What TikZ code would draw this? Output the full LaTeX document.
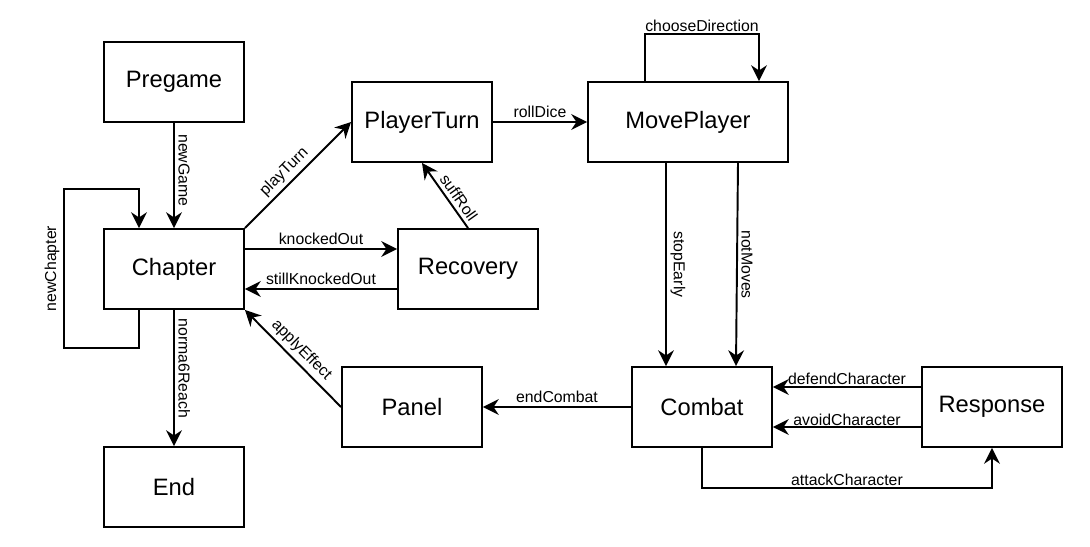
\documentclass[tikz,border=0pt]{standalone}
\usepackage{fontspec}
\setmainfont{Liberation Sans}
\usepackage{tikz}
\usetikzlibrary{calc,positioning,arrows.meta}

\begin{document}
\begin{tikzpicture}[x=0.02cm, y=-0.02cm,
    state/.style={draw, line width=1.1pt, minimum width=2.8cm, minimum height=1.6cm,
        inner sep=0pt, font=\fontsize{13.5}{16}\selectfont},
    trans/.style={line width=1.1pt, -{Stealth[length=9pt, width=9pt, inset=3pt]}},
    lbl/.style={font=\fontsize{9}{11}\selectfont, inner sep=2pt},
    vlbl/.style={lbl, rotate=-90, anchor=south}]
    \useasboundingbox (0,0) rectangle (1090,547);

    % states
    \node[state] (pregame) at (174,82) {Pregame};
    \node[state] (chapter) at (174,269) {Chapter};
    \node[state] (end) at (174,487) {End};
    \node[state] (playerturn) at (422,122) {PlayerTurn};
    \node[state, minimum width=4cm] (moveplayer) at (688,122) {MovePlayer};
    \node[state] (recovery) at (468,269) {Recovery};
    \node[state] (panel) at (412,407) {Panel};
    \node[state] (combat) at (702,407) {Combat};
    \node[state] (response) at (992,407) {Response};

    \coordinate (loopA) at (64,348);
    \coordinate (loopB) at (64,189);

    % transitions
    \draw[trans] (pregame) -- node[vlbl, pos=0.45] {newGame} (chapter);
    \draw[trans] ($(chapter.south)+(-35,0)$) |- (loopA)
        -- node[lbl, rotate=90, anchor=south] {newChapter} (loopB)
        -| ($(chapter.north)+(-35,0)$);
    \draw[trans] (chapter) -- node[vlbl, pos=0.43] {norma6Reach} (end);
    \draw[trans] (chapter.north east) -- node[lbl, sloped, above, pos=0.45] {playTurn} (playerturn.west);
    \draw[trans] ([yshift=0.4cm]chapter.east) -- node[lbl, above] {knockedOut} ([yshift=0.4cm]recovery.west);
    \draw[trans] ([yshift=-0.4cm]recovery.west) -- node[lbl, above] {stillKnockedOut} ([yshift=-0.4cm]chapter.east);
    \draw[trans] (recovery.north) -- node[lbl, sloped, above, pos=0.38] {suffRoll} (playerturn.south);
    \draw[trans] (panel.west) -- node[lbl, sloped, above, pos=0.5] {applyEffect} (chapter.south east);
    \draw[trans] (playerturn) -- node[lbl, above] {rollDice} (moveplayer);
    \draw[trans] ($(moveplayer.north)+(-43,0)$) |- node[lbl, above, pos=0.75, inner sep=1pt] {chooseDirection}
        ($(moveplayer.north)+(71,-47)$) -- ($(moveplayer.north)+(71,0)$);
    \draw[trans] ($(moveplayer.south)+(-22,0)$) -- node[vlbl] {stopEarly} ($(combat.north)+(-36,0)$);
    \draw[trans] ($(moveplayer.south)+(50,0)$) -- node[vlbl] {notMoves} ($(combat.north)+(34,0)$);
    \draw[trans] (combat) -- node[lbl, above] {endCombat} (panel);
    \draw[trans] ([yshift=0.4cm]response.west) -- node[lbl, above, inner sep=1pt] {defendCharacter} ([yshift=0.4cm]combat.east);
    \draw[trans] ([yshift=-0.4cm]response.west) -- node[lbl, anchor=base, yshift=1pt] {avoidCharacter} ([yshift=-0.4cm]combat.east);
    \draw[trans] (combat.south) |- node[lbl, above, pos=0.75, inner sep=1pt] {attackCharacter}
        ($(response.south)+(0,40)$) -- (response.south);
\end{tikzpicture}
\end{document}
